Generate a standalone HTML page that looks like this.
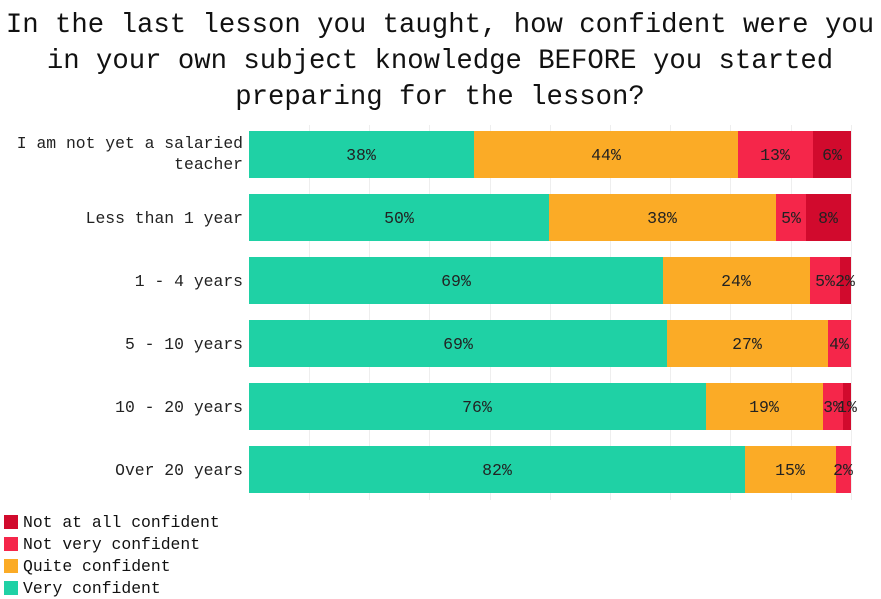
<!DOCTYPE html>
<html><head><meta charset="utf-8"><style>
html,body{margin:0;padding:0;background:#fff;}
svg{display:block;font-family:"Liberation Mono",monospace;}
</style></head><body>
<svg width="881" height="599" viewBox="0 0 881 599">
<g font-size="27.3" text-anchor="middle" fill="#111">
<text x="440" y="32">In the last lesson you taught, how confident were you</text>
<text x="440" y="68">in your own subject knowledge BEFORE you started</text>
<text x="440" y="104">preparing for the lesson?</text>
</g>
<g stroke="#eeeeee" stroke-width="1">
<line x1="309.5" y1="125" x2="309.5" y2="500"/><line x1="369.5" y1="125" x2="369.5" y2="500"/>
<line x1="429.5" y1="125" x2="429.5" y2="500"/><line x1="490.5" y1="125" x2="490.5" y2="500"/>
<line x1="550.5" y1="125" x2="550.5" y2="500"/><line x1="610.5" y1="125" x2="610.5" y2="500"/>
<line x1="670.5" y1="125" x2="670.5" y2="500"/><line x1="730.5" y1="125" x2="730.5" y2="500"/>
<line x1="791.5" y1="125" x2="791.5" y2="500"/><line x1="851.5" y1="125" x2="851.5" y2="500"/>
</g>
<g>
<rect x="249" y="131" width="225" height="47" fill="#1fd1a5"/><rect x="474" y="131" width="264" height="47" fill="#fbab26"/><rect x="738" y="131" width="75" height="47" fill="#f5264a"/><rect x="813" y="131" width="38" height="47" fill="#d10a2d"/>
<rect x="249" y="194" width="300" height="47" fill="#1fd1a5"/><rect x="549" y="194" width="227" height="47" fill="#fbab26"/><rect x="776" y="194" width="30" height="47" fill="#f5264a"/><rect x="806" y="194" width="45" height="47" fill="#d10a2d"/>
<rect x="249" y="257" width="414" height="47" fill="#1fd1a5"/><rect x="663" y="257" width="147" height="47" fill="#fbab26"/><rect x="810" y="257" width="30" height="47" fill="#f5264a"/><rect x="840" y="257" width="11" height="47" fill="#d10a2d"/>
<rect x="249" y="320" width="418" height="47" fill="#1fd1a5"/><rect x="667" y="320" width="161" height="47" fill="#fbab26"/><rect x="828" y="320" width="23" height="47" fill="#f5264a"/>
<rect x="249" y="383" width="457" height="47" fill="#1fd1a5"/><rect x="706" y="383" width="117" height="47" fill="#fbab26"/><rect x="823" y="383" width="20" height="47" fill="#f5264a"/><rect x="843" y="383" width="8" height="47" fill="#d10a2d"/>
<rect x="249" y="446" width="496" height="47" fill="#1fd1a5"/><rect x="745" y="446" width="91" height="47" fill="#fbab26"/><rect x="836" y="446" width="15" height="47" fill="#f5264a"/>
</g>
<g font-size="16.5" text-anchor="middle" fill="#222">
<text x="361" y="160">38%</text><text x="606" y="160">44%</text><text x="775" y="160">13%</text><text x="832" y="160">6%</text>
<text x="399" y="223">50%</text><text x="662" y="223">38%</text><text x="791" y="223">5%</text><text x="828" y="223">8%</text>
<text x="456" y="286">69%</text><text x="736" y="286">24%</text><text x="825" y="286">5%</text><text x="845" y="286">2%</text>
<text x="458" y="349">69%</text><text x="747" y="349">27%</text><text x="839" y="349">4%</text>
<text x="477" y="412">76%</text><text x="764" y="412">19%</text><text x="833" y="412">3%</text><text x="847" y="412">1%</text>
<text x="497" y="475">82%</text><text x="790" y="475">15%</text><text x="843" y="475">2%</text>
</g>
<g font-size="16.4" text-anchor="end" fill="#222">
<text x="243" y="148">I am not yet a salaried</text><text x="243" y="169">teacher</text>
<text x="243" y="223">Less than 1 year</text>
<text x="243" y="286">1 - 4 years</text>
<text x="243" y="349">5 - 10 years</text>
<text x="243" y="412">10 - 20 years</text>
<text x="243" y="475">Over 20 years</text>
</g>
<g font-size="16.4" fill="#111">
<rect x="4" y="515" width="14" height="14" fill="#d10a2d"/><text x="23" y="527">Not at all confident</text>
<rect x="4" y="537" width="14" height="14" fill="#f5264a"/><text x="23" y="549">Not very confident</text>
<rect x="4" y="559" width="14" height="14" fill="#fbab26"/><text x="23" y="571">Quite confident</text>
<rect x="4" y="581" width="14" height="14" fill="#1fd1a5"/><text x="23" y="593">Very confident</text>
</g>
</svg>
</body></html>
